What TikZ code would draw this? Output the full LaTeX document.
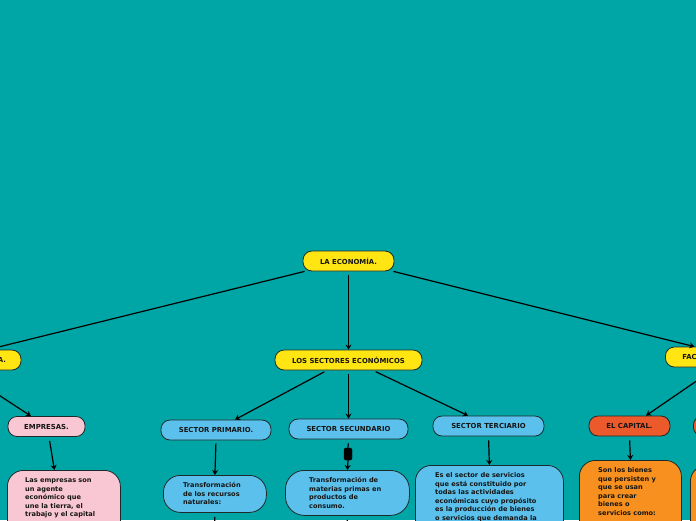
\documentclass[tikz,border=0pt]{standalone}
\usepackage{fontspec}
\setmainfont{DejaVu Sans}
\usetikzlibrary{arrows.meta,calc}
\definecolor{bg}{HTML}{00A6A6}
\definecolor{yel}{HTML}{FFE512}
\definecolor{bluec}{HTML}{5BC1EC}
\definecolor{pinkc}{HTML}{F9C7D3}
\definecolor{redc}{HTML}{EC5A2B}
\definecolor{orac}{HTML}{F7901E}
\definecolor{bordc}{HTML}{1E2A2A}
\definecolor{txtc}{HTML}{151515}
\tikzset{
  pill/.style={draw=bordc, line width=0.8pt, rounded corners=9pt, minimum height=20pt,
    inner sep=0pt, text=txtc, font=\bfseries\fontsize{6.9}{8.5}\selectfont},
  bodybox/.style={draw=bordc, line width=0.8pt, rounded corners=16pt, inner sep=0pt},
  bodytext/.style={inner sep=0pt, align=left, text=txtc, font=\bfseries\fontsize{6.6}{8.5}\selectfont},
  line/.style={draw=black, line width=1.2pt},
  conn/.style={line, -{Stealth[length=5pt,width=6pt]}},
}
\begin{document}
\begin{tikzpicture}[x=1pt,y=-1pt]
\useasboundingbox (0,0) rectangle (696,520);
\fill[bg] (0,0) rectangle (696,520);
\clip (0,0) rectangle (696,520);

% main nodes
\node[pill,fill=yel,minimum width=91pt] (eco) at (348.5,261) {LA ECONOMÍA.};
\node[pill,fill=yel,minimum width=147pt] (sect) at (348.5,360) {LOS SECTORES ECONÓMICOS};
\node[pill,fill=yel,minimum width=100pt,text width=70pt,align=right,inner xsep=15pt] (agentes) at (-29,360) {A.};
\node[pill,fill=yel,anchor=west,minimum width=100pt,text width=66pt,align=left,inner xsep=17pt] (fac) at (665,357) {FAC};

\node[pill,fill=pinkc,minimum width=77pt] (emp) at (46.5,426.5) {EMPRESAS.};
\node[pill,fill=bluec,minimum width=110pt] (prim) at (216,430) {SECTOR PRIMARIO.};
\node[pill,fill=bluec,minimum width=119pt] (secu) at (348.5,429) {SECTOR SECUNDARIO};
\node[pill,fill=bluec,minimum width=111pt] (terc) at (488.5,426) {SECTOR TERCIARIO};
\node[pill,fill=redc,minimum width=81pt] (cap) at (629.5,426) {EL CAPITAL.};
\node[pill,fill=redc,anchor=west,minimum width=80pt] (cap2) at (693,426) {};

% body boxes
\node[bodybox,fill=pinkc,anchor=north west,minimum width=113pt,minimum height=90pt] (empbox) at (7,470) {};
\node[bodytext,anchor=north west] (empT) at (25,477.5) {Las empresas son\\un agente\\económico que\\une la tierra, el\\trabajo y el capital};

\node[bodybox,fill=bluec,anchor=north west,minimum width=103pt,minimum height=37pt,rounded corners=17pt] (primbox) at (163,475) {};
\node[bodytext,anchor=north west] (primT) at (183,482.5) {Transformación\\de los recursos\\naturales:};

\node[bodybox,fill=bluec,anchor=north west,minimum width=124pt,minimum height=45pt,rounded corners=19pt] (secubox) at (285,470) {};
\node[bodytext,anchor=north west] (secuT) at (309,477.5) {Transformación de\\materias primas en\\productos de\\consumo.};

\node[bodybox,fill=bluec,anchor=north west,minimum width=148pt,minimum height=100pt] (tercbox) at (415,465) {};
\node[bodytext,anchor=north west] (tercT) at (435,472.5) {Es el sector de servicios\\que está constituido por\\todas las actividades\\económicas cuyo propósito\\es la producción de bienes\\o servicios que demanda la};

\node[bodybox,fill=orac,anchor=north west,minimum width=102pt,minimum height=100pt] (capbox) at (579,460) {};
\node[bodytext,anchor=north west] (capT) at (598,467.5) {Son los bienes\\que persisten y\\que se usan\\para crear\\bienes o\\servicios como:};

\node[bodybox,fill=orac,anchor=north west,minimum width=100pt,minimum height=100pt] (cap2box) at (690,465) {};

% collapse marker
\node[fill=black,draw=black,minimum width=8pt,minimum height=12pt,inner sep=0pt,rounded corners=1.5pt] (mk) at (348,454) {};

% connectors
\draw[conn] ([xshift=2pt]eco.south west) -- ([xshift=17pt]agentes.north);
\draw[conn,shorten <=4pt] (eco.south) -- (sect.north);
\draw[conn] ([xshift=-1pt]eco.south east) -- ([xshift=-21pt]fac.north);

\draw[conn,shorten <=3pt] ([xshift=-21.5pt]sect.south) -- ([xshift=19pt]prim.north);
\draw[conn,shorten <=4pt] (sect.south) -- (secu.north);
\draw[conn,shorten <=3pt] ([xshift=24.5pt]sect.south) -- ([xshift=-20.5pt]terc.north);

\draw[conn,shorten <=3pt] ([xshift=-10pt]agentes.south) -- ([xshift=-15.5pt]emp.north);
\draw[conn,shorten <=4pt] ([xshift=2.5pt]emp.south) -- ([xshift=-9.5pt]empbox.north);

\draw[conn,shorten <=3pt] (prim.south) -- (primbox.north);
\draw[line,shorten <=4pt] (secu.south) -- (mk.north);
\draw[conn] (mk.south) -- (secubox.north);
\draw[conn,shorten <=4pt] (terc.south) -- (tercbox.north);

\draw[conn,shorten <=3pt] ([xshift=1pt]fac.south) -- ([xshift=16.5pt]cap.north);
\draw[conn,shorten <=4pt] (cap.south) -- (capbox.north);

\coordinate (d1) at (214.5,540);
\coordinate (d2) at (347,540);
\draw[line,shorten <=4pt] (primbox.south) -- (d1);
\draw[line,shorten <=4pt] (secubox.south) -- (d2);
\end{tikzpicture}
\end{document}
